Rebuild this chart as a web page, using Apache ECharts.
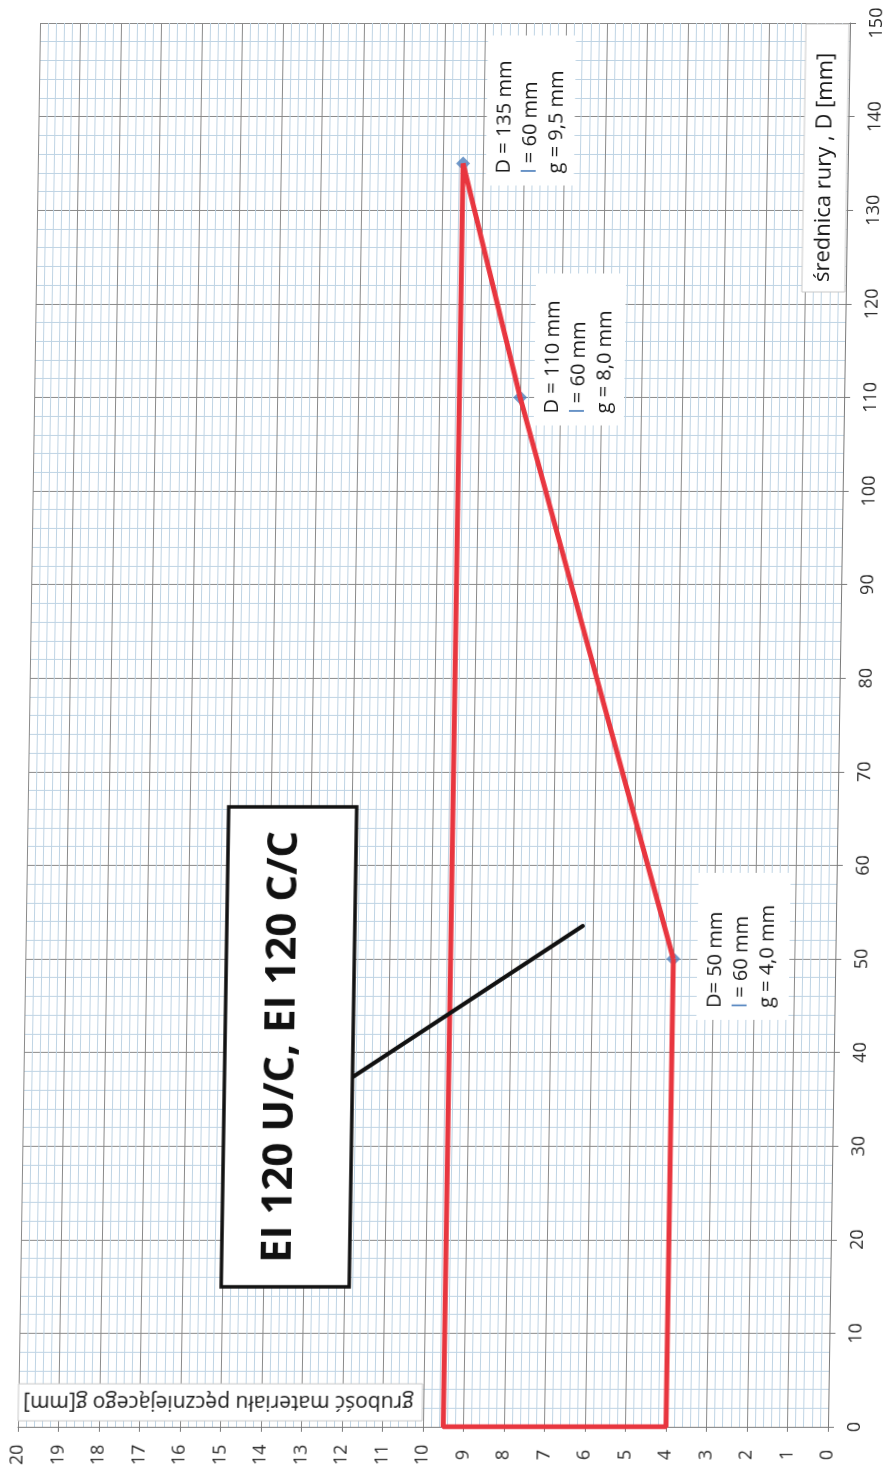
<!DOCTYPE html>
<html>
<head>
<meta charset="utf-8">
<script src="https://cdn.jsdelivr.net/npm/echarts@6/dist/echarts.min.js"></script>
<style>
  html, body { margin: 0; padding: 0; background: #fff; }
  /* skan jest lekko przekrzywiony - ramka wykresu "pochyla się" w prawo u góry */
  #chart { width: 892px; height: 1472px; transform: skewX(-0.9deg); transform-origin: 446px 725px; }
</style>
</head>
<body>
<div id="chart"></div>
<script>
// obrys pola zastosowania: g [mm] (oś pozioma, odwrócona), D [mm] (oś pionowa)
const outlineG = [4.0, 8.0, 9.5, 9.5, 4.0, 4.0];
const outlineD = [50, 110, 135, 0, 0, 50];

// punkty z opisami
const pointG = [4.0, 8.0, 9.5];
const pointD = [50, 110, 135];
const pointL = [60, 60, 60];
const pointDText = ['D= 50 mm', 'D = 110 mm', 'D = 135 mm'];

const xTitle = 'grubość materiału pęczniejącego g[mm]';
const yTitle = 'średnica rury , D [mm]';
const noteText = 'EI 120 U/C, EI 120 C/C';

const FONT = '"Open Sans", "Liberation Sans", sans-serif';

let chart = echarts.init(document.getElementById('chart'), null, { renderer: 'canvas' });

let option = {
    animation: false,
    backgroundColor: '#fff',
    grid: { left: 29, right: 53, top: 23, bottom: 45, containLabel: false },
    xAxis: {
        type: 'value', min: 0, max: 20, interval: 1, inverse: true, position: 'bottom',
        axisLine: { show: true, onZero: false, lineStyle: { color: '#7a7a7a', width: 1 } },
        axisTick: { show: true, length: 5, lineStyle: { color: '#7a7a7a' } },
        axisLabel: {
            rotate: 90, align: 'center', verticalAlign: 'middle', margin: 28,
            fontSize: 18, color: '#2a2a2a', fontFamily: FONT
        },
        splitLine: { show: true, lineStyle: { color: '#8a8a8a', width: 1 } },
        minorTick: { show: false, splitNumber: 5 },
        minorSplitLine: { show: true, lineStyle: { color: '#bfd4e4', width: 1 } }
    },
    yAxis: {
        type: 'value', min: 0, max: 150, interval: 10, position: 'right',
        axisLine: { show: true, onZero: false, lineStyle: { color: '#7a7a7a', width: 1 } },
        axisTick: { show: true, length: 6, lineStyle: { color: '#7a7a7a' } },
        axisLabel: {
            rotate: 90, align: 'center', verticalAlign: 'middle', margin: 27,
            fontSize: 18, color: '#2a2a2a', fontFamily: FONT
        },
        splitLine: { show: true, lineStyle: { color: '#8a8a8a', width: 1 } },
        minorTick: { show: false, splitNumber: 5 },
        minorSplitLine: { show: true, lineStyle: { color: '#bfd4e4', width: 1 } }
    },
    series: [
        {
            type: 'scatter',
            data: pointG.map((g, i) => [g, pointD[i]]),
            symbol: 'diamond', symbolSize: 14,
            itemStyle: { color: '#4f81bd' },
            z: 2
        },
        {
            type: 'line',
            data: outlineG.map((g, i) => [g, outlineD[i]]),
            showSymbol: false,
            lineStyle: { color: '#e8363f', width: 5, join: 'bevel' },
            z: 3
        }
    ]
};
chart.setOption(option);

// ---------------------------------------------------------------- opisy (ramki tekstowe)
// przesunięcia ramek względem punktu: [dx, dy dolnej krawędzi, szerokość, wysokość]
const labelBox = [[24, 61, 92, 147], [14, 28, 90, 152], [23, 22, 88, 150]];

function vText(x, y, text, size) {
    return {
        type: 'text', x: x, y: y,
        style: { text: text, fontSize: size || 20, fontFamily: FONT, fill: '#1a1a1a', align: 'left', verticalAlign: 'middle' }
    };
}

let graphics = [];
pointG.forEach((g, i) => {
    let p = chart.convertToPixel({ gridIndex: 0 }, [g, pointD[i]]);
    let b = labelBox[i];
    let gStr = g.toFixed(1).replace('.', ',');
    graphics.push({
        type: 'group', x: p[0] + b[0], y: p[1] + b[1], rotation: Math.PI / 2, z: 50,
        children: [
            { type: 'rect', shape: { x: 0, y: 0, width: b[3], height: b[2] }, style: { fill: '#fff' } },
            vText(12, 18, pointDText[i]),
            {
                type: 'text', x: 12, y: 44,
                style: {
                    text: '{b|l} = ' + pointL[i] + ' mm', fontSize: 20, fontFamily: FONT, fill: '#1a1a1a',
                    align: 'left', verticalAlign: 'middle',
                    rich: { b: { fill: '#4f81bd', fontSize: 20, fontFamily: FONT } }
                }
            },
            vText(12, 70, 'g = ' + gStr + ' mm')
        ]
    });
});

// tytuł osi D
graphics.push({
    type: 'group', x: 795, y: 292, rotation: Math.PI / 2, z: 50,
    children: [
        { type: 'rect', shape: { x: 0, y: 0, width: 268, height: 43 }, style: { fill: '#fff', stroke: '#c8c8c8', lineWidth: 1 } },
        vText(10, 21, yTitle, 22)
    ]
});

// tytuł osi g (do góry nogami na skanie)
graphics.push({
    type: 'rect', shape: { x: 29, y: 1384, width: 404, height: 37 }, z: 50,
    style: { fill: '#fff', stroke: '#c8c8c8', lineWidth: 1 }
});
graphics.push({
    type: 'text', x: 229, y: 1402, rotation: Math.PI, z: 51,
    style: { text: xTitle, fontSize: 21, fontFamily: FONT, fill: '#1a1a1a', align: 'center', verticalAlign: 'middle' }
});

// ramka z oznaczeniem klasy i linia odniesienia
graphics.push({
    type: 'line', shape: { x1: 357, y1: 1078, x2: 586, y2: 926 }, z: 60,
    style: { stroke: '#111', lineWidth: 4, lineCap: 'round' }
});
graphics.push({
    type: 'rect', shape: { x: 230, y: 807, width: 128, height: 480 }, z: 61,
    style: { fill: '#fff', stroke: '#111', lineWidth: 3.5 }
});
graphics.push({
    type: 'text', x: 287, y: 1047, rotation: Math.PI / 2, z: 62,
    style: { text: noteText, fontSize: 42, fontWeight: 'bold', fontFamily: FONT, fill: '#111', align: 'center', verticalAlign: 'middle' }
});

chart.setOption({ graphic: graphics });
</script>
</body>
</html>
